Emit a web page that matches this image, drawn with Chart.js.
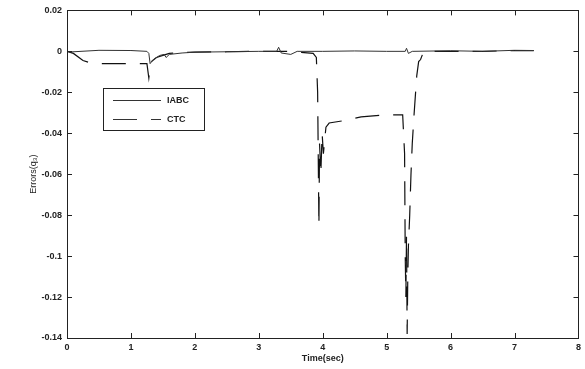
<!DOCTYPE html>
<html>
<head>
<meta charset="utf-8">
<script src="https://cdn.jsdelivr.net/npm/chart.js@4/dist/chart.umd.min.js"></script>
<style>
html,body{margin:0;padding:0;background:#fff;}
#wrap{width:585px;height:369px;position:relative;}
</style>
</head>
<body>
<div id="wrap"><canvas id="c" width="585" height="369"></canvas></div>
<script>
// Time (sec) / error values
const iabcTime = [0, 0.05, 0.5, 1.0, 1.25, 1.28, 1.30, 1.35, 1.45, 1.52, 1.55, 1.6, 1.8, 2.0, 2.5, 3.0, 3.28, 3.31, 3.35, 3.5, 3.6, 4.0, 4.5, 5.0, 5.29, 5.31, 5.34, 5.4, 6.0, 6.5, 7.0, 7.3];
const iabcErr  = [0, -0.0003, 0.0005, 0.0004, 0.0, -0.001, -0.006, -0.004, -0.002, -0.0015, -0.003, -0.0015, -0.0008, -0.0004, -0.0002, 0.0, 0.0, 0.002, -0.0008, -0.0015, 0.0, 0.0, 0.0002, 0.0, 0.0, 0.0015, -0.001, 0.0, 0.0003, 0.0, 0.0005, 0.0004];

const ctcTime = [0, 0.1, 0.25, 0.4, 0.8, 1.25, 1.28, 1.30, 1.32, 1.4, 1.5, 1.6, 1.8, 2.0, 2.5, 3.0, 3.5, 3.85, 3.9, 3.92, 3.94, 3.95, 3.97, 3.99, 4.01, 4.05, 4.1, 4.3, 4.6, 5.0, 5.25, 5.28, 5.29, 5.30, 5.31, 5.32, 5.33, 5.34, 5.36, 5.38, 5.4, 5.43, 5.47, 5.5, 5.53, 5.56, 5.6, 6.0, 6.5, 7.0, 7.3];
const ctcErr  = [0, -0.001, -0.0045, -0.006, -0.006, -0.006, -0.013, -0.008, -0.005, -0.003, -0.002, -0.001, -0.0006, -0.0004, -0.0002, 0.0, 0.0, -0.001, -0.003, -0.02, -0.085, -0.045, -0.06, -0.04, -0.05, -0.037, -0.035, -0.034, -0.032, -0.031, -0.031, -0.05, -0.1, -0.12, -0.09, -0.138, -0.11, -0.095, -0.08, -0.06, -0.045, -0.03, -0.012, -0.005, -0.004, -0.0015, 0.0, 0.0, 0.0, 0.0004, 0.0004];

const xTicks = [0, 1, 2, 3, 4, 5, 6, 7, 8];
const yTicks = [0.02, 0, -0.02, -0.04, -0.06, -0.08, -0.1, -0.12, -0.14];
const seriesNames = ['IABC', 'CTC'];

const pts = (xs, ys) => xs.map((x, i) => ({x: x, y: ys[i]}));
const FONT = 'Liberation Sans, Arial, sans-serif';

const frame = {
  id: 'frame',
  afterDatasetsDraw(chart) {
    const {ctx, chartArea: a, scales: {x, y}} = chart;
    ctx.save();
    ctx.strokeStyle = '#222';
    ctx.lineWidth = 1;
    ctx.strokeRect(Math.round(a.left) + 0.5, Math.round(a.top) + 0.5, Math.round(a.right - a.left), Math.round(a.bottom - a.top));
    const L = 5;
    ctx.beginPath();
    xTicks.forEach(v => {
      const px = Math.round(x.getPixelForValue(v)) + 0.5;
      ctx.moveTo(px, a.bottom); ctx.lineTo(px, a.bottom - L);
      ctx.moveTo(px, a.top); ctx.lineTo(px, a.top + L);
    });
    yTicks.forEach(v => {
      const py = Math.round(y.getPixelForValue(v)) + 0.5;
      ctx.moveTo(a.left, py); ctx.lineTo(a.left + L, py);
      ctx.moveTo(a.right, py); ctx.lineTo(a.right - L, py);
    });
    ctx.stroke();

    // legend box
    const bx = 103, by = 88, bw = 101, bh = 42;
    ctx.fillStyle = '#fff';
    ctx.fillRect(bx, by, bw, bh);
    ctx.strokeRect(bx + 0.5, by + 0.5, bw, bh);
    ctx.font = 'bold 9px ' + FONT;
    ctx.fillStyle = '#222';
    ctx.textBaseline = 'middle';
    chart.data.datasets.forEach((ds, i) => {
      const ly = by + 12 + i * 19 + 0.5;
      ctx.beginPath();
      ctx.setLineDash(ds.borderDash || []);
      ctx.strokeStyle = '#333';
      ctx.moveTo(113, ly); ctx.lineTo(161, ly);
      ctx.stroke();
      ctx.setLineDash([]);
      ctx.fillText(ds.label, 167, ly);
    });
    ctx.restore();
  }
};

new Chart(document.getElementById('c'), {
  type: 'line',
  data: {
    datasets: [
      {label: seriesNames[0], data: pts(iabcTime, iabcErr), borderColor: '#333', borderWidth: 1, pointRadius: 0, tension: 0},
      {label: seriesNames[1], data: pts(ctcTime, ctcErr), borderColor: '#111', borderWidth: 1.2, borderDash: [24, 14], pointRadius: 0, tension: 0}
    ]
  },
  options: {
    responsive: false,
    animation: false,
    layout: {padding: {top: 9, right: 6, left: 28, bottom: 5}},
    plugins: {legend: {display: false}, tooltip: {enabled: false}},
    scales: {
      x: {
        type: 'linear', min: 0, max: 8,
        afterBuildTicks: s => { s.ticks = xTicks.map(v => ({value: v})); },
        grid: {display: false, drawTicks: false, tickLength: 0},
        border: {display: false},
        ticks: {font: {family: FONT, size: 9, weight: 'bold'}, color: '#222', padding: 4, maxRotation: 0},
        title: {display: true, text: 'Time(sec)', font: {family: FONT, size: 9, weight: 'bold'}, color: '#222', padding: {top: 0, bottom: 0}},
        afterFit: s => { s.height = 26; }
      },
      y: {
        type: 'linear', min: -0.14, max: 0.02,
        afterBuildTicks: s => { s.ticks = yTicks.map(v => ({value: v})); },
        grid: {display: false, drawTicks: false, tickLength: 0},
        border: {display: false},
        ticks: {font: {family: FONT, size: 9, weight: 'bold'}, color: '#222', padding: 5,
          callback: v => String(Number(v.toFixed(2)))},
        title: {display: true, text: 'Errors(q₃)', font: {family: FONT, size: 9}, color: '#222', padding: {top: 0, bottom: 0}},
        afterFit: s => { s.width = 39; }
      }
    }
  },
  plugins: [frame]
});
</script>
</body>
</html>
